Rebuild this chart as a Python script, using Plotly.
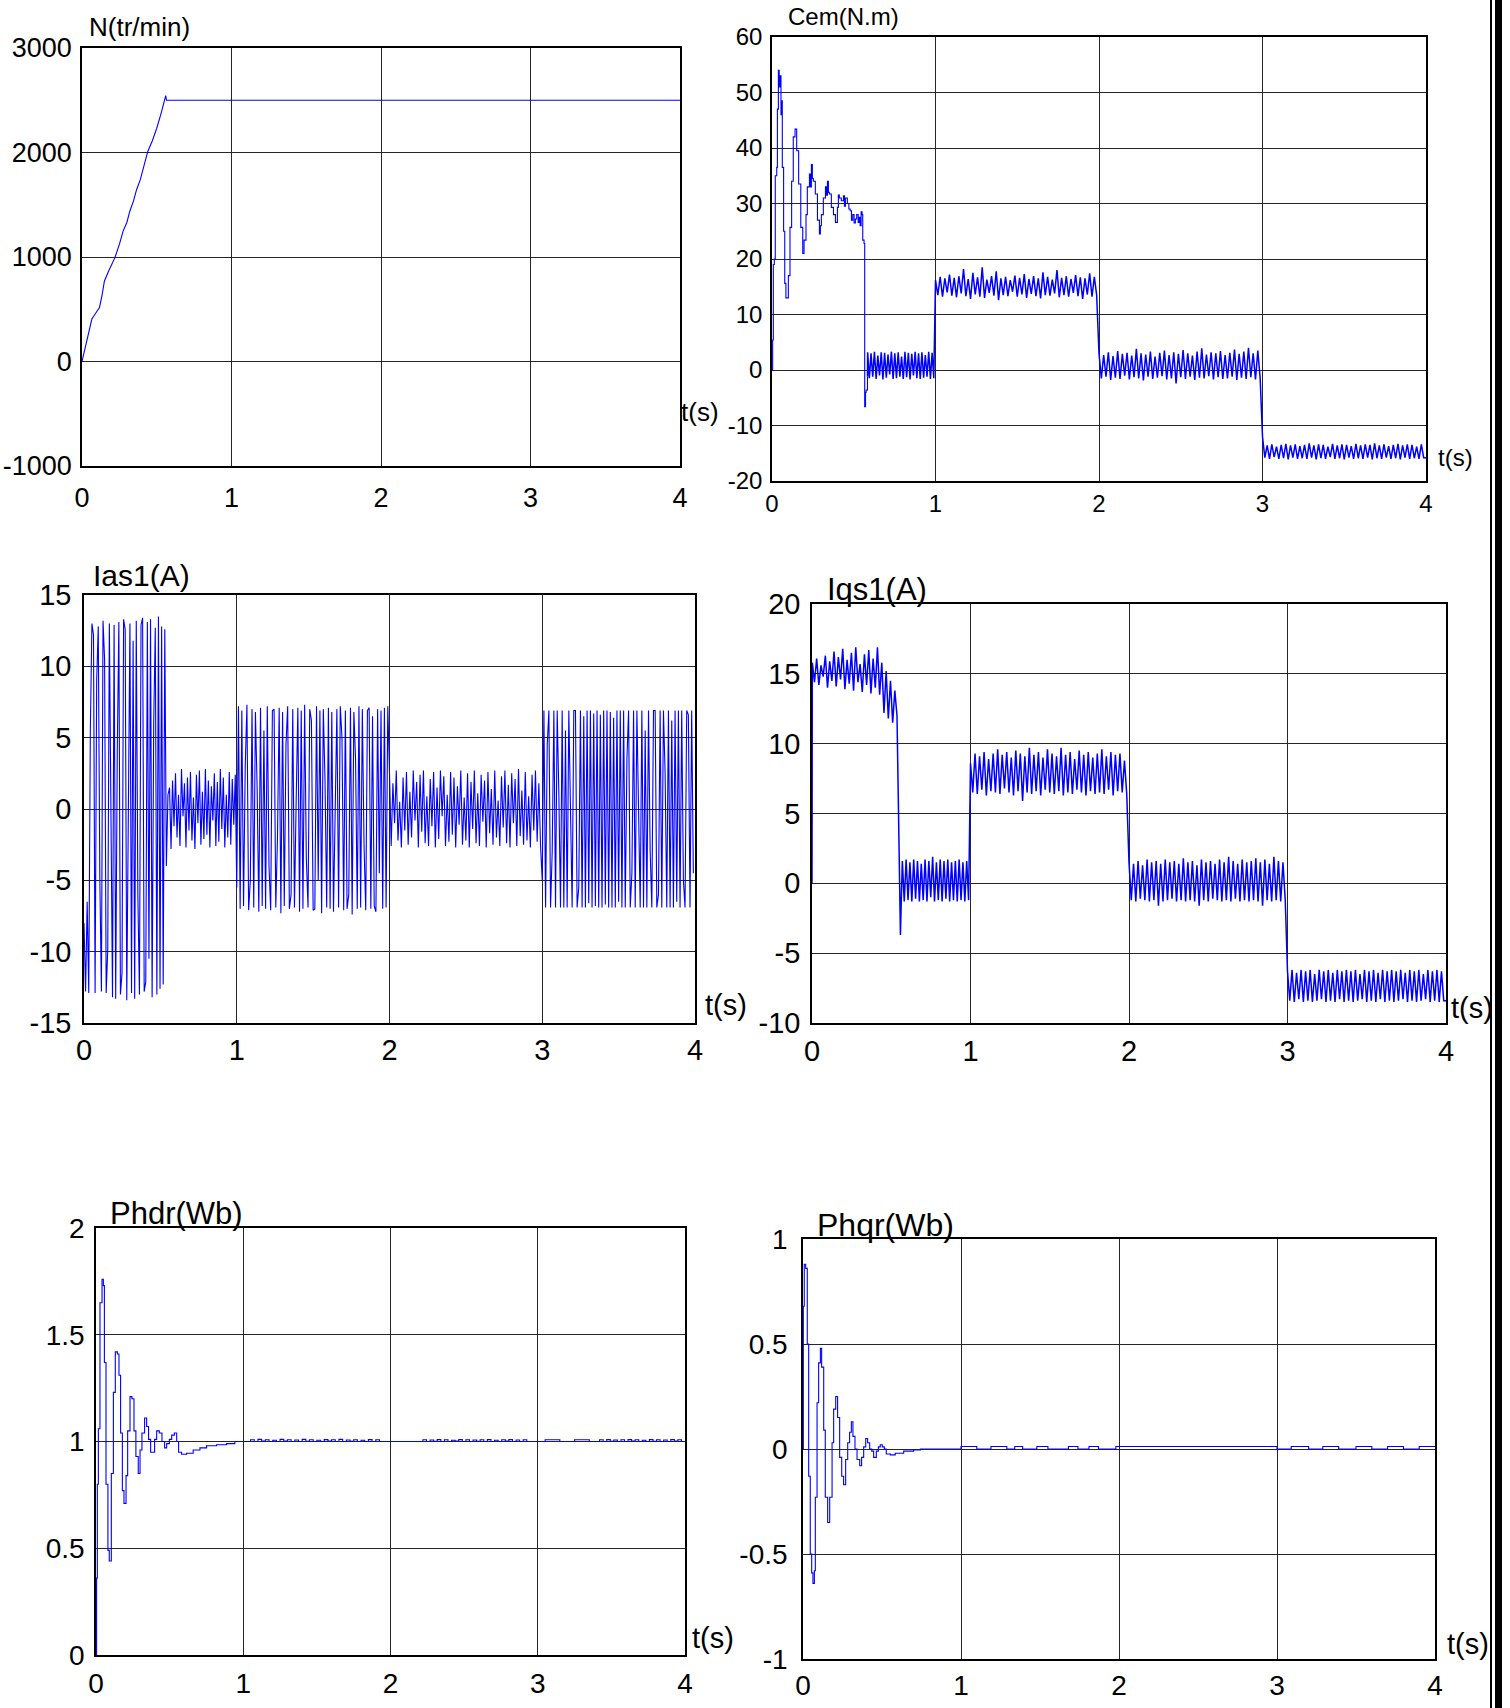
import numpy as np
import plotly.graph_objects as go

W, H = 1510, 1708

# ---------------- DATA ----------------
ticks_t = [0, 1, 2, 3, 4]

# Speed N (tr/min)
N_t = [0, 0.01, 0.02, 0.04, 0.066, 0.09, 0.117, 0.135, 0.15, 0.18, 0.22, 0.25, 0.275, 0.3, 0.32,
       0.345, 0.365, 0.39, 0.41, 0.44, 0.47, 0.5, 0.53, 0.553, 0.56, 0.565, 4.0]
N_v = [0, 60, 150, 260, 406, 460, 517, 640, 771, 870, 994, 1120, 1248, 1330, 1438,
       1540, 1644, 1740, 1850, 2010, 2110, 2232, 2380, 2517, 2545, 2500, 2500]
N_ticks = [-1000, 0, 1000, 2000, 3000]

# Electromagnetic torque Cem (N.m)
cem_t0 = [0, 0.004, 0.008, 0.014, 0.02, 0.029, 0.033, 0.039, 0.044, 0.049, 0.055, 0.06, 0.063, 0.071,
          0.078, 0.085, 0.09, 0.1, 0.11, 0.12, 0.13, 0.141, 0.151, 0.163, 0.176, 0.188, 0.196, 0.208,
          0.216, 0.229, 0.235, 0.241, 0.247, 0.253, 0.265, 0.278, 0.29, 0.296, 0.302, 0.314, 0.327,
          0.333, 0.339, 0.345, 0.351, 0.363, 0.376, 0.388, 0.4, 0.406, 0.412, 0.424, 0.437, 0.443,
          0.449, 0.461, 0.47, 0.478, 0.486, 0.494, 0.502, 0.51, 0.518, 0.527, 0.533, 0.539, 0.545,
          0.551, 0.555, 0.563, 0.567, 0.572, 0.576, 0.584]
cem_v0 = [0, 5.4, 19, 20, 35, 36.5, 47, 54, 51, 53, 46, 48.5, 36.5, 25,
          15.6, 13, 13, 17, 25.7, 34, 42, 43.4, 39.5, 33.5, 25.7, 21, 23.4, 28,
          33, 35.3, 33, 37, 34.5, 34, 31.7, 27, 24.5, 26, 28, 31, 33,
          31.5, 34, 32, 31.7, 29.3, 28, 26.6, 29.3, 31.5, 31, 30.5, 31.4, 29.5,
          31, 30, 29, 28.7, 27, 28, 26.5, 27.2, 28, 26.6, 27.5, 26, 28.5,
          28, 23.4, 22.8, -6.6, -4, -3.6, -1.2]
cem_b1 = [3.2, -1.5, 3.0, -1.2, 3.3, -1.6, 2.6, -1.0, 3.2, -1.7, 3.1, -1.4, 2.8, -0.8, 3.3, -1.6, 3.0, -1.5,
          3.2, -1.2, 2.4, -1.6, 3.3, -1.3, 3.1, -1.7, 2.9, -1.0, 3.3, -1.5, 3.0, -1.6, 3.2, -1.4, 2.7, -1.2,
          3.3, -1.6, 3.1, -1.5]
cem_b2 = [16.2, 13.5, 16.8, 13.2, 16.5, 14.0, 17.2, 13.4, 16.6, 13.1, 16.9, 13.8, 18.2, 13.3, 16.4, 12.8,
          17.5, 13.6, 16.7, 13.2, 18.5, 13.0, 16.3, 13.9, 16.9, 13.4, 17.8, 12.6, 16.5, 13.5, 16.8, 13.3,
          16.2, 14.1, 17.0, 13.2, 16.6, 13.6, 17.3, 13.0, 16.4, 13.7, 16.9, 13.3, 16.5, 12.9, 17.6, 13.5,
          16.8, 13.4, 16.3, 13.8, 18.0, 13.1, 16.6, 13.5, 16.9, 13.2, 16.4, 13.9, 17.1, 13.3, 16.7, 12.8,
          16.5, 13.6, 17.4, 13.2, 16.8, 13.5]
cem_b3 = [3.0, -1.5, 2.7, -1.2, 3.2, -1.8, 2.5, -1.4, 3.4, -1.6, 2.9, -1.0, 3.1, -1.7, 2.6, -1.3, 3.8, -1.5,
          3.0, -1.9, 2.8, -1.2, 3.3, -1.6, 2.4, -1.4, 3.1, -1.1, 3.5, -1.7, 2.7, -1.5, 3.2, -2.4, 2.9, -1.3,
          3.6, -1.6, 3.0, -1.2, 2.6, -1.8, 3.3, -1.4, 3.9, -1.5, 2.8, -1.1, 3.2, -1.7, 3.0, -1.3, 3.4, -1.6,
          2.7, -1.5, 3.1, -1.2, 3.7, -1.8, 2.9, -1.4, 3.3, -1.6, 4.0, -1.3, 3.0, -1.7, 3.5, -1.5]
cem_b4 = [-12.0, -15.8, -13.6, -16.0, -13.4, -15.7, -13.8, -16.0, -13.5, -15.9, -13.3, -16.1, -13.6, -15.8,
          -13.4, -16.0, -13.7, -15.9, -13.5, -16.0, -13.2, -15.8, -13.6, -16.1, -13.4, -15.9, -13.5, -16.0,
          -13.8, -15.7, -13.3, -16.0, -13.6, -15.9, -13.4, -16.1, -13.5, -15.8, -13.7, -16.0, -13.3, -15.9,
          -13.6, -16.0, -13.4, -15.8, -13.5, -16.1, -13.2, -15.9, -13.6, -16.0, -13.4, -15.8, -13.7, -16.0,
          -13.5, -15.9, -13.3, -16.1, -13.6, -15.8, -13.4, -16.0, -13.5, -15.9, -13.8, -16.0, -13.4, -15.8]
cem_ticks = [-20, -10, 0, 10, 20, 30, 40, 50, 60]

# Stator current Ias1 (A)
ias_b0 = [-8, -12.8, -6.5, -12.9, 5.5, 13.0, 12.2, -12.9, 9.0, 12.8, -5.0, -12.8, 13.2, 10.5, -12.9, -9.8,
          13.0, -3.0, -13.2, 12.9, -13.3, 4.0, 13.1, -13.0, -11.5, 13.3, 12.6, -13.4, 0.5, 13.0, -12.9, 11.8,
          -13.3, 13.2, -6.0, -13.0, 12.9, 13.4, -12.8, -12.1, 13.1, -10.5, 13.3, -13.2, 6.0, 12.7, -13.0,
          13.5, -12.6, 12.8, -12.3, 12.6, -4.0, 1.0]
ias_b1 = [1.5, -2.8, 2.0, -1.2, 2.5, -2.0, 1.0, -2.6, 2.8, -0.5, 1.8, -2.7, 2.2, -1.5, 2.6, -2.2, 0.8, -2.8,
          2.4, -1.0, 2.7, -2.5, 1.2, -2.1, 2.8, -1.8, 2.0, -2.7, 1.6, -0.8, 2.5, -2.6, 1.9, -2.3, 2.8, -1.4,
          2.2, -2.7, 1.0, -2.0, 2.6, -2.5, 2.1, -1.1, 2.4]
ias_b2 = [-5.5, 7.2, -7.0, 6.9, -6.8, 3.0, 7.3, -7.1, -5.0, 7.0, -6.9, 6.8, 1.5, -7.2, 7.1, -6.8, 5.5, -7.0,
          7.2, -4.0, -7.1, 6.9, 7.0, -6.9, -2.0, 7.1, -7.3, 6.8, -6.8, 4.5, 7.2, -7.0, -6.0, 7.0, -6.9, 0.5,
          7.1, -7.2, 6.9, -7.0, 7.3, -3.5, -6.9, 7.0, 6.2, -7.1, -7.0, 7.2, -5.0, 6.9, -7.3, 7.0, 2.0, -6.9,
          7.1, -7.0, 6.8, -7.2, -1.0, 7.0, -6.9, 7.2, 5.0, -7.1, 6.9, -7.0, -6.0, 7.1, -7.4, 6.8, 3.5, -7.0,
          7.2, -6.9, 7.0, -2.5, -7.1, 6.9, 7.1, -7.0, 6.5, -6.8, -7.2, 7.0, -4.5, 6.9, -7.0, 7.1, -6.9, 7.2]
ias_b3 = [2.5, -2.6, 1.8, -1.0, 2.7, -2.2, 0.5, -2.7, 2.2, -1.5, 2.6, -2.5, 1.2, -2.0, 2.7, -0.8, 1.9, -2.7,
          2.4, -1.6, 2.7, -2.4, 0.9, -2.6, 2.1, -1.2, 2.6, -2.7, 1.5, -2.1, 2.7, -0.5, 2.3, -2.6, 1.0, -2.3,
          2.6, -1.8, 2.2, -2.7, 1.6, -1.1, 2.7, -2.5, 0.8, -2.2, 2.5, -2.7, 1.9, -1.4, 2.7, -2.4, 1.1, -2.6,
          2.4, -0.9, 2.0, -2.7, 2.6, -1.7, 1.4, -2.5, 2.7, -2.0, 0.6, -2.6, 2.3, -1.3, 2.7, -2.4, 1.7, -2.7,
          2.5, -1.0, 2.1, -2.6, 2.8, -1.9, 1.3, -2.5, 2.6, -2.2, 0.9, -2.7, 2.4, -1.5, 2.7, -2.3, 1.8, -2.6]
ias_b4 = [-5.0, 6.9, -6.9, 4.5, 6.9, -6.9, -3.0, 6.9, -6.9, 6.9, 1.0, -6.9, 6.9, -6.9, 5.5, -6.9, 6.9, -2.0,
          -6.9, 6.9, 6.9, -6.9, -5.5, 6.9, -6.9, 6.5, -6.9, 6.9, -6.6, 6.9, -6.9, 6.7, -6.8, 6.9, -6.9, 6.6,
          -6.9, 6.9, -6.7, 6.9, -6.9, 6.8, -6.9, 6.4, -6.9, 6.9, -6.5, 6.9, -6.9, 6.9, -6.9, 3.5, 6.9, -6.9,
          -4.5, 6.9, -6.9, 6.9, 0.0, -6.9, 6.9, -6.9, 5.5, -6.9, 6.9, -3.0, -6.9, 6.9, 6.9, -6.9, -6.0, 6.9,
          -6.9, 6.9, 2.5, -6.9, 6.9, -6.9, 6.2, -6.9, 6.9, -6.5, 6.9, -6.9, 6.9, -5.0, -6.9, 6.9, 6.6, -6.9,
          6.9, -4.5]
ias_ticks = [-15, -10, -5, 0, 5, 10, 15]

# q-axis stator current Iqs1 (A)
iqs_b0 = [15.8, 14.4, 16.1, 14.2, 15.6, 14.8, 16.3, 14.0, 15.9, 14.5, 16.6, 14.1, 16.2, 14.6, 16.8, 13.9,
          16.0, 14.3, 16.5, 13.8, 16.9, 14.4, 15.7, 13.7, 16.4, 14.2, 16.7, 13.6, 16.1, 14.0, 16.9, 13.5,
          15.8, 12.2, 15.2, 11.8, 14.5, 11.5, 13.8, 12.0]
iqs_tr_t = [0.55, 0.558, 0.562, 0.568]
iqs_tr_v = [0.3, -3.7, -1.8, 0.5]
iqs_b1 = [1.6, -1.3, 1.7, -1.2, 1.5, -1.3, 1.7, -1.1, 1.6, -1.3, 1.4, -1.2, 1.7, -1.3, 1.6, -1.0, 1.9, -1.3,
          1.5, -1.2, 1.7, -1.3, 1.6, -1.1, 1.7, -1.3, 1.5, -1.2, 1.6, -1.3, 1.7, -1.2, 1.5, -1.3, 1.6, -1.2]
iqs_b2 = [8.6, 6.5, 9.3, 6.4, 9.1, 6.7, 9.4, 6.3, 8.9, 6.6, 9.3, 6.5, 9.6, 6.4, 9.2, 6.8, 9.4, 6.5, 9.0, 6.3,
          9.5, 6.6, 9.3, 5.9, 9.1, 6.5, 9.7, 6.4, 9.2, 6.6, 9.4, 6.3, 9.0, 6.7, 9.6, 6.5, 9.3, 6.4, 9.1, 6.6,
          9.7, 6.3, 9.2, 6.5, 9.4, 6.4, 8.9, 6.7, 9.5, 6.5, 9.2, 6.3, 9.4, 6.6, 9.0, 6.4, 9.3, 6.5, 9.6, 6.4,
          9.1, 6.7, 9.4, 6.3, 9.2, 6.6, 9.3, 6.5, 8.8, 6.4]
iqs_b3 = [1.5, -1.2, 1.4, -1.3, 1.6, -1.1, 1.3, -1.2, 1.7, -1.3, 1.5, -1.2, 1.6, -1.6, 1.4, -1.3, 1.7, -1.2,
          1.5, -1.1, 1.6, -1.3, 1.4, -1.2, 1.8, -1.3, 1.5, -1.2, 1.6, -1.3, 1.3, -1.6, 1.7, -1.2, 1.5, -1.3,
          1.6, -1.1, 1.4, -1.2, 1.7, -1.3, 1.5, -1.2, 1.9, -1.3, 1.6, -1.1, 1.4, -1.3, 1.7, -1.2, 1.5, -1.3,
          1.6, -1.2, 1.8, -1.3, 1.5, -1.6, 1.7, -1.2, 1.4, -1.3, 1.9, -1.2, 1.6, -1.3, 1.5, -1.2]
iqs_b4 = [-6.3, -8.4, -6.2, -8.5, -6.4, -8.3, -6.2, -8.5, -6.3, -8.4, -6.2, -8.5, -6.5, -8.4, -6.2, -8.3,
          -6.3, -8.5, -6.2, -8.4, -6.4, -8.5, -6.2, -8.3, -6.3, -8.5, -6.2, -8.4, -6.3, -8.5, -6.2, -8.4,
          -6.5, -8.3, -6.2, -8.5, -6.3, -8.4, -6.2, -8.5, -6.4, -8.3, -6.2, -8.5, -6.3, -8.4, -6.2, -8.5,
          -6.3, -8.4, -6.2, -8.3, -6.4, -8.5, -6.2, -8.4, -6.3, -8.5, -6.2, -8.4, -6.5, -8.3, -6.2, -8.5,
          -6.3, -8.4, -6.2, -8.5, -6.3, -8.4]
iqs_ticks = [-10, -5, 0, 5, 10, 15, 20]

# Rotor flux d-axis Phdr (Wb)
phdr_t0 = [0, 0.004, 0.009, 0.016, 0.027, 0.041, 0.05, 0.057, 0.068, 0.081, 0.09, 0.104, 0.118, 0.131,
           0.145, 0.156, 0.167, 0.179, 0.19, 0.204, 0.215, 0.231, 0.244, 0.258, 0.271, 0.287, 0.299,
           0.312, 0.33, 0.344, 0.357, 0.371, 0.385, 0.398, 0.412, 0.43, 0.448, 0.466, 0.48, 0.498, 0.514,
           0.532, 0.548, 0.561, 0.581, 0.615, 0.66, 0.706, 0.751, 0.819, 0.887, 0.943, 1.0]
phdr_v0 = [0, 0.36, 0.80, 1.06, 1.65, 1.76, 1.73, 1.37, 0.80, 0.49, 0.44, 0.85, 1.23, 1.42,
           1.41, 1.31, 1.04, 0.77, 0.71, 0.84, 1.05, 1.21, 1.2, 1.05, 0.93, 0.85, 0.96,
           1.04, 1.11, 1.07, 1.01, 0.95, 0.95, 1.01, 1.05, 1.04, 1.0, 0.97, 0.99, 1.01, 1.03,
           1.04, 1.0, 0.95, 0.94, 0.945, 0.96, 0.97, 0.98, 0.985, 0.99, 1.0, 1.0]
phdr_r1 = [1.008, 1.0, 1.01, 1.002, 1.008, 1.0, 1.006, 1.0, 1.01, 1.002, 1.008, 1.0, 1.007, 1.0, 1.01,
           1.001, 1.008, 1.0, 1.006, 1.0, 1.009, 1.002, 1.008, 1.0, 1.01, 1.0, 1.007, 1.001, 1.008, 1.0,
           1.006, 1.0, 1.009, 1.0, 1.008, 1.0]
phdr_r2 = [1.008, 1.0, 1.007, 1.001, 1.009, 1.0, 1.008, 1.0, 1.006, 1.002, 1.009, 1.0, 1.008, 1.0, 1.007,
           1.001, 1.008, 1.0, 1.009, 1.0, 1.006, 1.0, 1.008, 1.002, 1.009, 1.0, 1.007, 1.0, 1.008, 1.0]
phdr_r3 = [1.008, 1.0, 1.009, 1.001, 1.007, 1.0, 1.008, 1.0, 1.009, 1.002, 1.008, 1.0, 1.006, 1.0, 1.009,
           1.001, 1.008, 1.0, 1.007, 1.0, 1.009, 1.002, 1.008, 1.0]
phdr_mid_t = [1.95, 2.22, 2.95, 3.05, 3.15, 3.25, 3.35, 3.42]
phdr_mid_v = [1.0, 1.0, 1.0, 1.008, 1.0, 1.008, 1.0, 1.0]
phdr_ticks = [0, 0.5, 1, 1.5, 2]

# Rotor flux q-axis Phqr (Wb)
phqr_t = [0, 0.002, 0.008, 0.017, 0.027, 0.036, 0.046, 0.055, 0.063, 0.072, 0.078, 0.089, 0.099, 0.11,
          0.118, 0.131, 0.141, 0.156, 0.169, 0.184, 0.194, 0.207, 0.219, 0.232, 0.245, 0.257, 0.27,
          0.283, 0.295, 0.306, 0.316, 0.329, 0.342, 0.359, 0.371, 0.384, 0.397, 0.409, 0.422, 0.435,
          0.447, 0.464, 0.477, 0.489, 0.502, 0.515, 0.527, 0.553, 0.584, 0.637, 0.7, 0.743,
          1.0, 1.1, 1.19, 1.29, 1.34, 1.39, 1.48, 1.55, 1.68, 1.74, 1.81, 1.87, 1.98,
          3.0, 3.09, 3.2, 3.29, 3.39, 3.5, 3.6, 3.7, 3.8, 3.9, 4.0]
phqr_v = [0, 0.68, 0.88, 0.86, 0.5, -0.13, -0.5, -0.59, -0.64, -0.58, -0.23, 0.22, 0.41, 0.48,
          0.39, 0.09, -0.23, -0.35, -0.23, 0.03, 0.19, 0.25, 0.15, -0.04, -0.13, -0.17, -0.05,
          0.03, 0.08, 0.13, 0.06, 0.0, -0.05, -0.08, -0.04, 0.01, 0.05, 0.03, 0.0, -0.01,
          -0.04, -0.01, 0.01, 0.02, 0.01, 0.0, -0.024, -0.028, -0.02, -0.01, -0.005, 0.0,
          0.012, 0.0, 0.012, 0.0, 0.012, 0.0, 0.012, 0.0, 0.012, 0.0, 0.012, 0.0, 0.012,
          0.0, 0.012, 0.0, 0.012, 0.0, 0.012, 0.0, 0.012, 0.0, 0.012, 0.012]
phqr_ticks = [-1, -0.5, 0, 0.5, 1]


# ---------------- ASSEMBLY ----------------
def band(t0, t1, vals):
    times = np.linspace(t0, t1, len(vals), endpoint=False)
    return list(times), list(vals)


def join(*parts):
    ts, vs = [], []
    for t, v in parts:
        ts += list(t)
        vs += list(v)
    return ts, vs


cemA_T, cemA_V = cem_t0, cem_v0
cemB_T, cemB_V = join(([cem_t0[-1]], [cem_v0[-1]]), band(0.585, 1.0, cem_b1), band(1.0, 2.0, cem_b2),
                      band(2.0, 3.0, cem_b3), band(3.0, 4.0, cem_b4), ([4.0], [cem_b4[-1]]))
ias_T, ias_V = join(band(0.0, 0.56, ias_b0), band(0.56, 1.0, ias_b1), band(1.0, 2.0, ias_b2),
                    band(2.0, 3.0, ias_b3), band(3.0, 4.0, ias_b4))
iqs_T, iqs_V = join(([0.0, 0.001], [0.0, 15.0]), band(0.002, 0.55, iqs_b0), (iqs_tr_t, iqs_tr_v),
                    band(0.57, 1.0, iqs_b1), band(1.0, 2.0, iqs_b2), band(2.0, 3.0, iqs_b3),
                    band(3.0, 4.0, iqs_b4), ([4.0], [iqs_b4[-1]]))
phdr_T, phdr_V = join((phdr_t0, phdr_v0), band(1.05, 1.95, phdr_r1), (phdr_mid_t[:2], phdr_mid_v[:2]),
                      band(2.22, 2.95, phdr_r2), (phdr_mid_t[2:], phdr_mid_v[2:]),
                      band(3.42, 4.0, phdr_r3), ([4.0], [1.0]))

# ---------------- LAYOUT ----------------
ARIAL = "Liberation Sans, Arial, sans-serif"

panels = [
    dict(box=(82, 680, 48, 466), yr=(-1000, 3000), yt=N_ticks, fs=27, ystand=3, xstand=7,
         title="N(tr/min)", tpos=(87, 27), tfs=26, ts=(679, 412)),
    dict(box=(772, 1426, 37, 481), yr=(-20, 60), yt=cem_ticks, fs=24, ystand=3, xstand=0,
         title="Cem(N.m)", tpos=(786, 17), tfs=24, ts=(1436, 457)),
    dict(box=(84, 695, 595, 1023), yr=(-15, 15), yt=ias_ticks, fs=29, ystand=5, xstand=0,
         title="Ias1(A)", tpos=(91, 576), tfs=30, ts=(703, 1005)),
    dict(box=(812, 1446, 604, 1023), yr=(-10, 20), yt=iqs_ticks, fs=29, ystand=4, xstand=1,
         title="Iqs1(A)", tpos=(825, 589), tfs=31, ts=(1449, 1008)),
    dict(box=(96, 685, 1228, 1655), yr=(0, 2), yt=phdr_ticks, fs=28, ystand=4, xstand=3,
         title="Phdr(Wb)", tpos=(108, 1213), tfs=31, ts=(690, 1638)),
    dict(box=(803, 1435, 1239, 1659), yr=(-1, 1), yt=phqr_ticks, fs=28, ystand=8, xstand=1,
         title="Phqr(Wb)", tpos=(815, 1225), tfs=32, ts=(1445, 1644)),
]

# (panel index, t, values, line shape, width)
series = [
    (0, N_t, N_v, "linear", 1.1),
    (1, cemA_T, cemA_V, "hv", 1.1),
    (1, cemB_T, cemB_V, "linear", 1.5),
    (2, ias_T, ias_V, "linear", 1.1),
    (3, iqs_T, iqs_V, "linear", 1.5),
    (4, phdr_T, phdr_V, "hv", 1.1),
    (5, phqr_t, phqr_v, "hv", 1.1),
]


def fmt(v):
    return "%g" % v


def refs(i):
    n = i + 1
    return ("x" if n == 1 else "x%d" % n), ("y" if n == 1 else "y%d" % n)


fig = go.Figure()
for (i, tx, vy, shape, lw) in series:
    xr, yr_ = refs(i)
    fig.add_trace(go.Scatter(x=tx, y=vy, mode="lines", line=dict(color="#0000ff", width=lw, shape=shape),
                             xaxis=xr, yaxis=yr_, hoverinfo="skip", showlegend=False))

annotations = []
layout_axes = {}
for i, p in enumerate(panels):
    n = i + 1
    xa = "xaxis" if n == 1 else "xaxis%d" % n
    ya = "yaxis" if n == 1 else "yaxis%d" % n
    xref, yref = refs(i)
    x0, x1, y0, y1 = p["box"]
    common = dict(showgrid=True, gridcolor="#262626", gridwidth=1, showline=True, mirror=True,
                  linecolor="#000000", linewidth=1.6, zeroline=False, ticks="", automargin=False,
                  tickfont=dict(family=ARIAL, size=p["fs"], color="#000000"), fixedrange=True)
    layout_axes[xa] = dict(common, domain=[x0 / W, x1 / W], range=[0, 4], tickvals=ticks_t,
                           ticktext=[str(t) for t in ticks_t], anchor=yref,
                           ticklabelstandoff=p["xstand"])
    layout_axes[ya] = dict(common, domain=[1 - y1 / H, 1 - y0 / H], range=list(p["yr"]), tickvals=p["yt"],
                           ticktext=[fmt(v) for v in p["yt"]], anchor=xref,
                           ticklabelstandoff=p["ystand"])
    annotations.append(dict(text=p["title"], x=p["tpos"][0] / W, y=1 - p["tpos"][1] / H, xref="paper",
                            yref="paper", xanchor="left", yanchor="middle", showarrow=False,
                            font=dict(family=ARIAL, size=p["tfs"], color="#000000")))
    annotations.append(dict(text="t(s)", x=p["ts"][0] / W, y=1 - p["ts"][1] / H, xref="paper",
                            yref="paper", xanchor="left", yanchor="middle", showarrow=False,
                            font=dict(family=ARIAL, size=min(p["tfs"], 29), color="#000000")))

shapes = [
    dict(type="rect", xref="paper", yref="paper", x0=1490 / W, x1=1492 / W, y0=0, y1=1,
         fillcolor="#000000", line=dict(width=0), layer="above"),
    dict(type="rect", xref="paper", yref="paper", x0=1495 / W, x1=1502 / W, y0=0, y1=1,
         fillcolor="#000000", line=dict(width=0), layer="above"),
]

fig.update_layout(width=W, height=H, margin=dict(l=0, r=0, t=0, b=0, pad=0), paper_bgcolor="white",
                  plot_bgcolor="white", showlegend=False, annotations=annotations, shapes=shapes,
                  **layout_axes)

fig.write_html("out.html")
